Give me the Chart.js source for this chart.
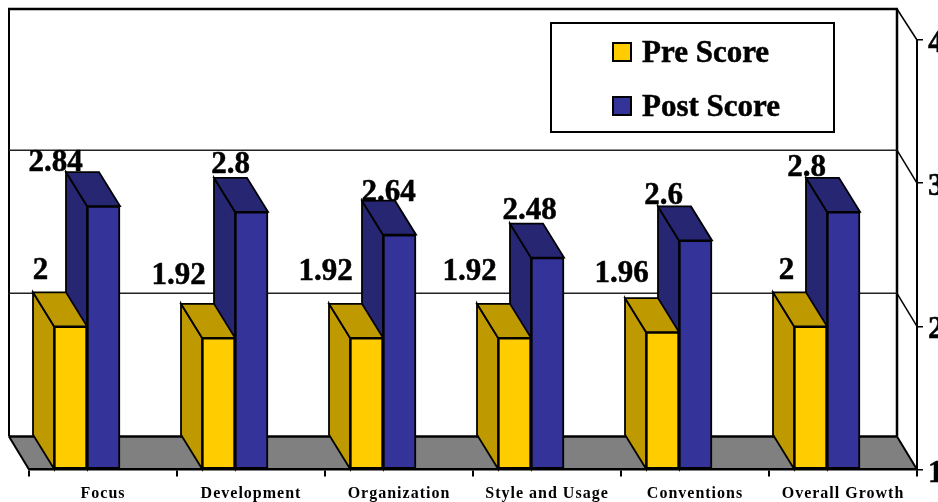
<!DOCTYPE html>
<html>
<head>
<meta charset="utf-8">
<title>Pre and post scores</title>
<script src="https://cdn.jsdelivr.net/npm/chart.js@4"></script>
<style>
    html, body { margin: 0; padding: 0; background: #ffffff; }
    canvas { display: block; }
</style>
</head>
<body>
<canvas id="scoreChart" width="938" height="502"></canvas>
<script>
const categories = ['Focus', 'Development', 'Organization', 'Style and Usage', 'Conventions', 'Overall Growth'];
const preScore = [2, 1.92, 1.92, 1.92, 1.96, 2];
const postScore = [2.84, 2.8, 2.64, 2.48, 2.6, 2.8];
const yTicks = [1, 2, 3, 4];

// hand placed value labels, px away from the front face of the bar
const preLabelX = [-30, -40, -41, -45, -41, -24];
const preLabelY = [-58, -65, -69, -69, -61, -58];
const postLabelX = [-48, -21, -11, -18, -32, -37];
const postLabelY = [-46, -50, -45, -50, -47, -47];

const serif = '"Liberation Serif", "Times New Roman", serif';
const wall = { dx: 20, dy: 33, top: 9 };
const barDepth = { dx: 21, dy: 34 };
const barShift = -16; // bars stand in the middle of the floor, not at the front edge

const colors = {
    pre: '#FFCC00', preDark: '#BF9900',
    post: '#333399', postDark: '#262673',
    floor: '#808080', line: '#000000', grid: '#222222'
};

const poly = (ctx, pts, fill, width) => {
    ctx.beginPath();
    pts.forEach((p, i) => i ? ctx.lineTo(p[0], p[1]) : ctx.moveTo(p[0], p[1]));
    ctx.closePath();
    if (fill) { ctx.fillStyle = fill; ctx.fill(); }
    ctx.lineWidth = width;
    ctx.strokeStyle = colors.line;
    ctx.lineJoin = 'miter';
    ctx.stroke();
};

const seg = (ctx, x1, y1, x2, y2, width, color) => {
    ctx.beginPath();
    ctx.moveTo(x1, y1);
    ctx.lineTo(x2, y2);
    ctx.lineWidth = width;
    ctx.strokeStyle = color;
    ctx.stroke();
};

// the original text is heavier than plain bold
const heavyText = (ctx, text, x, y) => {
    ctx.fillStyle = '#000000';
    ctx.strokeStyle = '#000000';
    ctx.lineWidth = 0.5;
    ctx.fillText(text, x, y);
    ctx.strokeText(text, x, y);
};

// back wall, floor and the diagonals of the side wall
const wallPlugin = {
    id: 'wall3d',
    beforeDraw(chart) {
        const ctx = chart.ctx, y = chart.scales.y, area = chart.chartArea;
        const backL = area.left - wall.dx, backR = area.right - wall.dx;
        const floorBack = y.getPixelForValue(1) - wall.dy;
        ctx.save();
        poly(ctx, [[backL, floorBack], [backR, floorBack], [area.right, area.bottom], [area.left, area.bottom]], colors.floor, 0.01);
        seg(ctx, backL, floorBack, backR, floorBack, 2.5, colors.line);
        seg(ctx, backL, floorBack, area.left, area.bottom, 2, colors.line);
        seg(ctx, backR, floorBack, area.right, area.bottom, 2, colors.line);
        seg(ctx, backL, wall.top, backL, floorBack, 2, colors.line);
        seg(ctx, backR, wall.top, backR, floorBack, 2.5, colors.line);
        seg(ctx, backL - 1, wall.top, backR + 1, wall.top, 2.5, colors.line);
        seg(ctx, backR, wall.top, area.right, y.getPixelForValue(4), 1.5, colors.line);
        [2, 3].forEach(v => {
            const py = y.getPixelForValue(v);
            seg(ctx, backL, py - wall.dy, backR, py - wall.dy, 1.5, colors.grid);
            seg(ctx, backR, py - wall.dy, area.right, py, 1.5, colors.line);
        });
        ctx.restore();
        ctx.letterSpacing = '1px'; // category labels are spaced out in the original
    }
};

// sides and tops of the bars, the front faces are the normal bar elements
const depthPlugin = {
    id: 'barDepth',
    afterDatasetsUpdate(chart) {
        chart.data.datasets.forEach((ds, i) => {
            chart.getDatasetMeta(i).data.forEach(el => { el.x += barShift; });
        });
    },
    beforeDatasetsDraw(chart) {
        const ctx = chart.ctx;
        const { dx, dy } = barDepth;
        const darks = [colors.preDark, colors.postDark];
        ctx.save();
        [1, 0].forEach(i => {
            chart.getDatasetMeta(i).data.forEach(el => {
                const l = el.x - el.width / 2, r = el.x + el.width / 2;
                const t = el.y, b = el.base;
                poly(ctx, [[l, t], [l - dx, t - dy], [l - dx, b - dy], [l, b]], darks[i], 1.8);
                poly(ctx, [[l, t], [l - dx, t - dy], [r - dx, t - dy], [r, t]], darks[i], 1.8);
            });
        });
        ctx.restore();
    },
    afterDatasetsDraw(chart) {
        const ctx = chart.ctx;
        const y = chart.scales.y;
        const offX = [preLabelX, postLabelX], offY = [preLabelY, postLabelY];
        ctx.save();
        ctx.letterSpacing = '0px';
        ctx.font = 'bold 31px ' + serif;
        ctx.textAlign = 'center';
        ctx.textBaseline = 'alphabetic';
        chart.data.datasets.forEach((ds, i) => {
            chart.getDatasetMeta(i).data.forEach((el, j) => {
                heavyText(ctx, String(ds.data[j]), el.x + offX[i][j], el.y + offY[i][j] + 11);
            });
        });

        // value axis numbers sit a little under their ticks, the tick option can't do that
        ctx.textAlign = 'left';
        yTicks.forEach(v => heavyText(ctx, String(v), 928, y.getPixelForValue(v) + 12));

        // legend box
        ctx.fillStyle = '#ffffff';
        ctx.fillRect(551, 23, 283, 109);
        ctx.lineWidth = 2;
        ctx.strokeStyle = colors.line;
        ctx.strokeRect(551, 23, 283, 109);
        const rows = [{ sq: 43, base: 62, fill: colors.pre }, { sq: 97, base: 116, fill: colors.post }];
        chart.data.datasets.forEach((ds, i) => {
            ctx.fillStyle = rows[i].fill;
            ctx.lineWidth = 2;
            ctx.strokeStyle = colors.line;
            ctx.fillRect(613, rows[i].sq, 18, 18);
            ctx.strokeRect(613, rows[i].sq, 18, 18);
            heavyText(ctx, ds.label, 642, rows[i].base);
        });
        ctx.restore();
    }
};

new Chart(document.getElementById('scoreChart').getContext('2d'), {
    type: 'bar',
    data: {
        labels: categories,
        datasets: [
            { label: 'Pre Score', data: preScore, base: 1, backgroundColor: colors.pre, borderColor: colors.line, borderWidth: 2, borderSkipped: false, barThickness: 33 },
            { label: 'Post Score', data: postScore, base: 1, backgroundColor: colors.post, borderColor: colors.line, borderWidth: 2, borderSkipped: false, barThickness: 33 }
        ]
    },
    options: {
        responsive: false,
        animation: false,
        devicePixelRatio: 1,
        layout: { autoPadding: false, padding: { left: 29, top: 40, right: 0, bottom: 0 } },
        plugins: { legend: { display: false }, title: { display: false }, tooltip: { enabled: false } },
        scales: {
            x: {
                grid: { drawOnChartArea: false, color: colors.line, lineWidth: 2, tickLength: 7 },
                border: { color: colors.line, width: 2.5 },
                ticks: { color: '#000000', font: { family: serif, size: 16, weight: 'bold' }, padding: 8, maxRotation: 0, autoSkip: false },
                afterFit: s => { s.height = 32.5; }
            },
            y: {
                position: 'right',
                min: 1,
                max: 4,
                afterBuildTicks: s => { s.ticks = yTicks.map(v => ({ value: v })); },
                grid: { drawOnChartArea: false, color: colors.line, lineWidth: 1.5, tickLength: 6 },
                border: { color: colors.line, width: 2 },
                ticks: { display: false },
                afterFit: s => { s.width = 21; }
            }
        }
    },
    plugins: [wallPlugin, depthPlugin]
});
</script>
</body>
</html>
